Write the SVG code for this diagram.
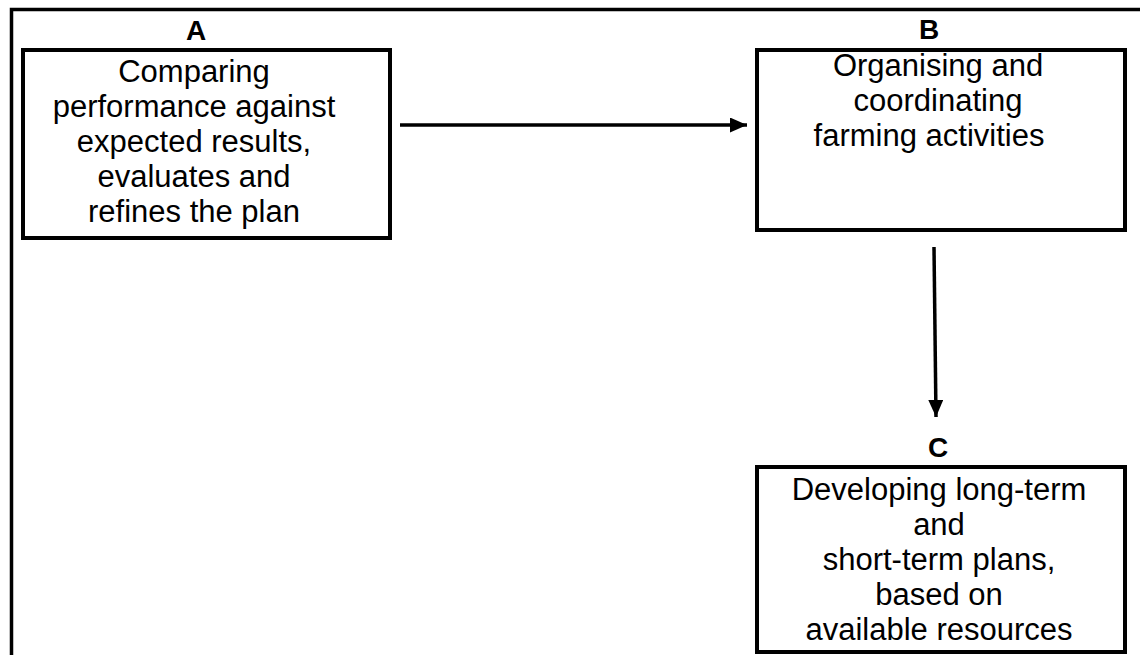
<svg xmlns="http://www.w3.org/2000/svg" width="1140" height="655" viewBox="0 0 1140 655">
  <style>
    .box { fill: #ffffff; stroke: #000000; stroke-width: 4; }
    .txt { font-family: "Liberation Sans", Arial, sans-serif; font-size: 31px; fill: #000000; text-anchor: middle; }
    .lbl { font-family: "Liberation Sans", Arial, sans-serif; font-size: 28px; font-weight: bold; fill: #000000; text-anchor: middle; }
    .conn { stroke: #000000; stroke-width: 3.5; fill: none; }
  </style>
  <defs>
    <marker id="arrow" markerUnits="userSpaceOnUse" markerWidth="18" markerHeight="16" refX="17" refY="7.5" orient="auto">
      <path d="M0,0 L17,7.5 L0,15 Z" fill="#000000"/>
    </marker>
  </defs>
  <rect width="1140" height="655" fill="#ffffff"/>
  <g id="frame">
    <path d="M11.5,655 V9.5 H1140" fill="none" stroke="#000000" stroke-width="3.5"/>
  </g>
  <g id="nodeA">
    <text class="lbl" x="196" y="40">A</text>
    <rect class="box" x="23" y="50" width="367" height="188"/>
    <text class="txt" x="194" y="82">Comparing</text>
    <text class="txt" x="194" y="117">performance against</text>
    <text class="txt" x="194" y="152">expected results,</text>
    <text class="txt" x="194" y="187">evaluates and</text>
    <text class="txt" x="194" y="222">refines the plan</text>
  </g>
  <g id="nodeB">
    <text class="lbl" x="929" y="39">B</text>
    <rect class="box" x="757" y="50" width="368" height="180"/>
    <text class="txt" x="938" y="76">Organising and</text>
    <text class="txt" x="938" y="111">coordinating</text>
    <text class="txt" x="929" y="146">farming activities</text>
  </g>
  <g id="nodeC">
    <text class="lbl" x="938" y="457">C</text>
    <rect class="box" x="757" y="467" width="368" height="185"/>
    <text class="txt" x="939" y="500">Developing long-term</text>
    <text class="txt" x="939" y="535">and</text>
    <text class="txt" x="939" y="570">short-term plans,</text>
    <text class="txt" x="939" y="605">based on</text>
    <text class="txt" x="939" y="640">available resources</text>
  </g>
  <g id="connectors">
    <line class="conn" x1="400" y1="125" x2="747" y2="125" marker-end="url(#arrow)"/>
    <line class="conn" x1="934" y1="247" x2="936" y2="417" marker-end="url(#arrow)"/>
  </g>
</svg>
